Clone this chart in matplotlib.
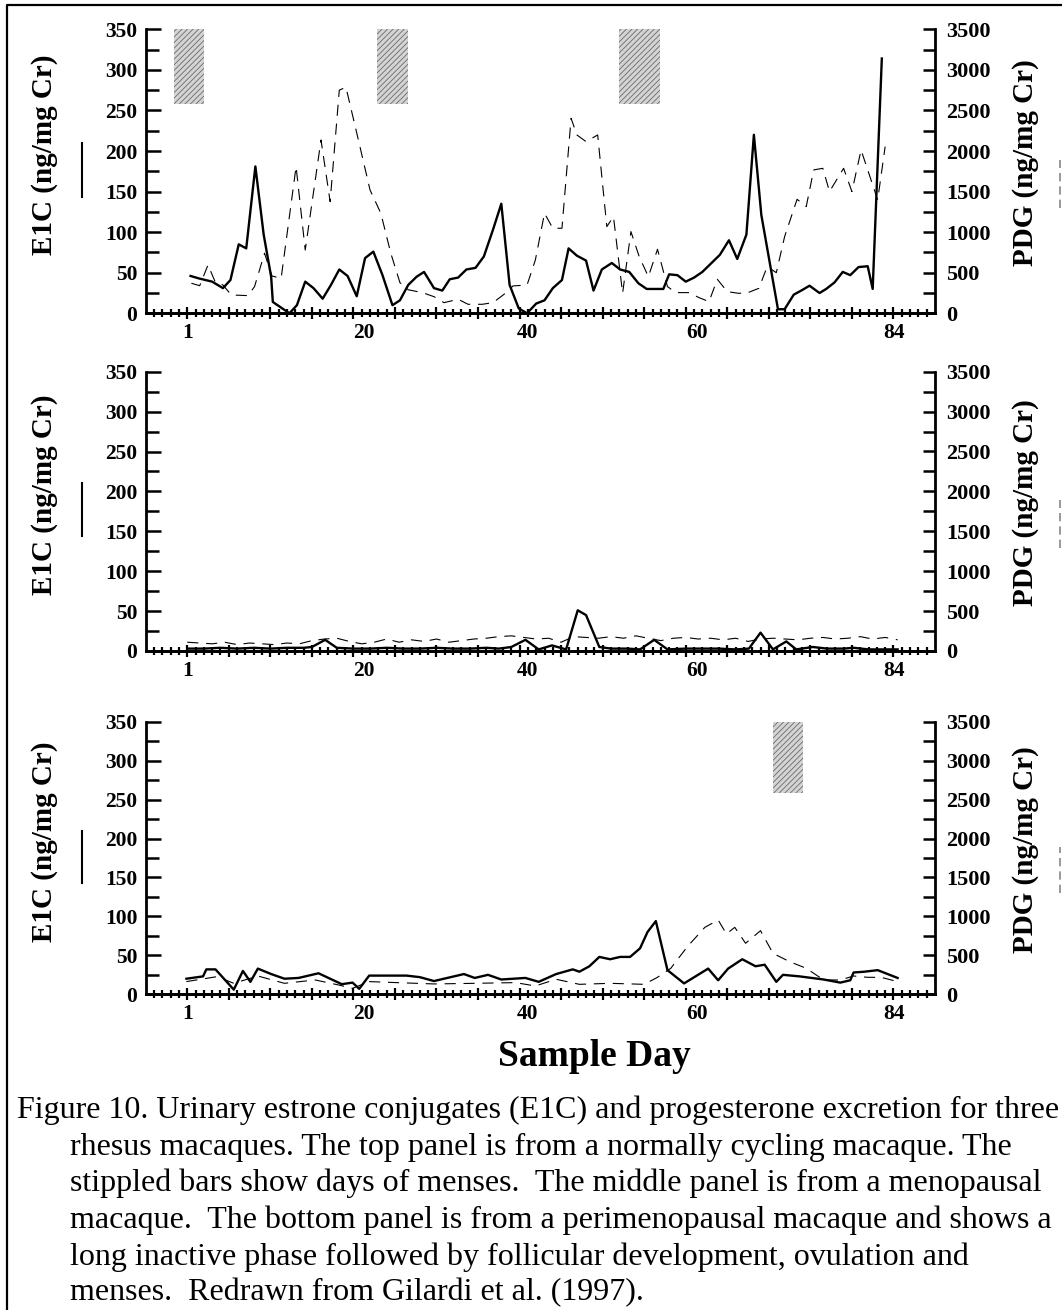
import matplotlib
matplotlib.use("Agg")
import matplotlib.pyplot as plt
from matplotlib.lines import Line2D
from matplotlib.ticker import MultipleLocator, FixedLocator

plt.rcParams["font.family"] = ["Liberation Serif", "DejaVu Serif"]
plt.rcParams["hatch.linewidth"] = 0.6

W, H = 1062, 1310

# x tick labels (sample day) and where they sit on the day scale
XTICK_LABELS = ["1", "20", "40", "60", "84"]
XTICK_POS = [1, 22.2, 41.9, 62.4, 86.1]

# menses bars (start day, end day), drawn between these E1C values
TOP_MENSES = [(-0.6, 3.0), (23.8, 27.6), (53.0, 57.9)]
BOT_MENSES = [(71.5, 75.1)]
MENSES_LOW, MENSES_HIGH = 258, 350

# top panel: normally cycling macaque
TOP_E1C_DAY = [1.4, 2.4, 4.0, 5.3, 6.2, 7.2, 8.1, 9.2, 10.2, 11.1,
               11.3, 13.3, 14.2, 15.2, 16.2, 17.3, 18.3, 19.3, 20.3, 21.4,
               22.4, 23.4, 24.5, 25.7, 26.6, 27.6, 28.6, 29.5, 30.7, 31.7,
               32.6, 33.6, 34.6, 35.7, 36.7, 37.8, 38.8, 39.8, 40.9, 41.9,
               43.0, 44.0, 45.0, 46.1, 46.9, 47.9, 49.0, 49.9, 50.9, 52.1,
               53.1, 54.2, 55.3, 56.3, 58.3, 59.0, 60.0, 61.0, 62.0, 63.0,
               64.1, 65.1, 66.2, 67.2, 68.3, 69.2, 70.1, 72.1, 72.9, 74.0,
               74.9, 75.9, 77.1, 77.9, 78.9, 79.9, 80.8, 81.8, 82.9, 83.5,
               84.6]
TOP_E1C = [46, 43, 39, 31, 41, 85, 80, 181, 97, 45,
           14, 0, 10, 39, 31, 18, 35, 54, 46, 21,
           68, 76, 47, 10, 16, 35, 45, 51, 31, 28,
           42, 44, 54, 56, 70, 103, 135, 35, 6, 0,
           12, 16, 31, 41, 80, 71, 65, 28, 54, 62,
           54, 51, 37, 30, 30, 48, 47, 39, 44, 51,
           62, 72, 90, 67, 97, 220, 121, 5, 5, 23,
           28, 34, 25, 30, 38, 51, 47, 57, 58, 30,
           314]
TOP_PDG_DAY = [1.5, 2.5, 3.5, 4.4, 5.3, 6.3, 8.3, 9.1, 10.3, 11.2,
               12.3, 14.1, 15.2, 17.1, 18.2, 19.3, 20.1, 21.6, 23.0, 24.3,
               25.5, 26.6, 27.6, 29.3, 30.7, 31.9, 33.6, 34.8, 36.5, 37.8,
               39.4, 40.2, 41.9, 42.9, 44.0, 45.0, 46.1, 47.2, 47.9, 49.0,
               50.4, 51.5, 52.3, 53.4, 54.4, 55.4, 56.5, 57.6, 58.8, 59.8,
               61.4, 62.6, 63.8, 64.8, 66.0, 67.3, 68.3, 69.8, 70.8, 71.9,
               72.9, 74.4, 75.5, 76.4, 77.5, 78.3, 80.0, 81.0, 82.1, 82.9,
               84.1, 85.0]
TOP_PDG = [370, 340, 596, 378, 349, 226, 218, 329, 740, 460,
           431, 1808, 780, 2136, 1376, 2750, 2786, 2136, 1520, 1233,
           740, 378, 290, 255, 205, 131, 173, 111, 111, 131,
           255, 337, 349, 657, 1233, 1048, 1048, 2403, 2198, 2116,
           2198, 1068, 1191, 247, 1007, 698, 452, 789, 329, 255,
           255, 193, 144, 419, 267, 247, 247, 308, 575, 501,
           945, 1405, 1315, 1767, 1787, 1500, 1787, 1500, 2013, 1767,
           1397, 2054]

# middle panel: menopausal macaque
MID_E1C_DAY = [1, 3, 5, 7, 9, 11, 13, 15, 16, 17.6,
               19, 21, 23, 25, 27, 29, 31, 33, 35, 37,
               38.5, 40, 41.7, 43.3, 44.9, 46.6, 48.0, 49.0, 50.6, 52,
               54, 55.5, 57.2, 58.8, 61, 63, 65, 67, 68.6, 70,
               71.5, 73.1, 74.3, 76.3, 78, 80, 81.2, 83, 86.5]
MID_E1C = [3, 3, 4, 3, 4, 3, 4, 4, 5, 14,
           4, 3, 3, 4, 3, 3, 4, 3, 3, 4,
           3, 5, 14, 2, 7, 2, 51, 45, 5, 3,
           3, 2, 14, 2, 3, 3, 3, 2, 3, 23,
           2, 12, 2, 5, 3, 3, 4, 2, 2]
MID_PDG_DAY = [1, 2.5, 4, 5.5, 7, 8.5, 10, 11.5, 13, 14.5,
               16, 17.5, 19, 20.5, 22, 23.5, 25, 26.5, 28, 29.5,
               31, 32.5, 34, 35.5, 37, 38.5, 40, 41.5, 43, 44.5,
               46, 47.5, 49, 50.5, 52, 53.5, 55, 56.5, 58, 59.5,
               61, 62.5, 64, 65.5, 67, 68.5, 70, 71.5, 73, 74.5,
               76, 77.5, 79, 80.5, 82, 83.5, 85, 86.5]
MID_PDG = [110, 100, 90, 110, 80, 100, 90, 80, 100, 90,
           130, 150, 160, 120, 90, 110, 150, 110, 140, 120,
           150, 110, 130, 150, 160, 180, 190, 170, 150, 160,
           110, 180, 170, 160, 180, 160, 190, 160, 130, 160,
           170, 150, 160, 140, 160, 120, 150, 160, 150, 140,
           160, 170, 150, 160, 180, 150, 170, 140]

# bottom panel: perimenopausal macaque
BOT_E1C_DAY = [0.9, 2.9, 3.3, 4.4, 6.6, 7.7, 8.6, 9.5, 11.1, 12.7,
               14.4, 16.8, 19.6, 20.9, 21.7, 22.9, 27.4, 29.0, 30.7, 32.3,
               34.3, 35.6, 37.2, 38.8, 41.7, 43.3, 45.4, 47.4, 48.2, 49.4,
               50.6, 51.9, 53.1, 54.3, 55.5, 56.4, 57.4, 58.8, 60.8, 63.7,
               64.9, 66.1, 67.8, 69.4, 70.5, 71.9, 72.7, 74.7, 77.6, 79.6,
               80.8, 81.2, 82.5, 84.1, 86.5]
BOT_E1C = [20, 23, 32, 32, 6, 30, 16, 33, 26, 20,
           21, 27, 13, 15, 7, 24, 24, 22, 17, 21,
           26, 21, 25, 19, 21, 16, 26, 32, 29, 36,
           48, 45, 48, 48, 59, 80, 94, 31, 14, 33,
           18, 33, 45, 36, 38, 16, 25, 23, 19, 15,
           18, 28, 29, 31, 21]
BOT_PDG_DAY = [0.9, 4.6, 6.6, 9.5, 12.7, 16.4, 19.2, 20.9, 22.9, 26.2,
               30.7, 35.6, 40.5, 42.9, 45.4, 48.2, 51.9, 56.0, 57.6, 59.2,
               61.2, 63.3, 64.9, 65.9, 66.9, 68.2, 70.0, 71.5, 73.5, 75.5,
               77.6, 79.6, 81.2, 82.9, 84.5, 86.5]
BOT_PDG = [163, 227, 141, 235, 141, 184, 120, 77, 163, 150,
           133, 141, 150, 107, 193, 128, 141, 128, 218, 334,
           612, 860, 954, 775, 860, 655, 817, 526, 419, 334,
           184, 184, 235, 218, 218, 163]

CAPTION = [
    "Figure 10. Urinary estrone conjugates (E1C) and progesterone excretion for three",
    "rhesus macaques. The top panel is from a normally cycling macaque. The",
    "stippled bars show days of menses.  The middle panel is from a menopausal",
    "macaque.  The bottom panel is from a perimenopausal macaque and shows a",
    "long inactive phase followed by follicular development, ovulation and",
    "menses.  Redrawn from Gilardi et al. (1997).",
]

# panel boxes in pixels: (top, bottom); all share left/right
PX_LEFT, PX_RIGHT = 145.7, 935.0
PANEL_PX = [(29.3, 313.3), (371.7, 651.0), (721.7, 994.3)]


def draw_panel(fig, box, e1c_day, e1c, pdg_day, pdg, menses):
    top, bottom = box
    rect = [PX_LEFT / W, 1 - bottom / H, (PX_RIGHT - PX_LEFT) / W, (bottom - top) / H]
    ax = fig.add_axes(rect)
    ax2 = ax.twinx()
    ax.set_xlim(-4, 91)
    ax.set_ylim(0, 350)
    ax2.set_ylim(0, 3500)

    for s, e in menses:
        ax.bar(s, MENSES_HIGH - MENSES_LOW, width=e - s, bottom=MENSES_LOW, align="edge",
               facecolor="#d4d4d4", edgecolor="#6a6a6a", linewidth=0, hatch="//////", zorder=1)

    ax2.plot(pdg_day, pdg, color="black", lw=0.8, linestyle=(0, (10, 7)), zorder=2)
    ax.plot(e1c_day, e1c, color="black", lw=1.7, zorder=3)
    ax.set_zorder(ax2.get_zorder() + 1)
    ax.patch.set_visible(False)

    ax.spines["top"].set_visible(False)
    ax2.spines["top"].set_visible(False)
    ax.spines["right"].set_visible(False)
    for sp in ("left", "bottom"):
        ax2.spines[sp].set_visible(False)
    for a in (ax, ax2):
        for sp in a.spines.values():
            sp.set_linewidth(2)

    ax.set_yticks(range(0, 351, 50))
    ax.yaxis.set_minor_locator(MultipleLocator(25))
    ax.tick_params(axis="y", which="major", direction="in", length=11, width=1.8,
                   pad=6, labelsize=15.5)
    ax.tick_params(axis="y", which="minor", direction="in", length=9, width=1.8)
    for t in ax.get_yticklabels():
        t.set_fontweight("bold")

    ax2.set_yticks(range(0, 3501, 500))
    ax2.yaxis.set_minor_locator(MultipleLocator(250))
    ax2.tick_params(axis="y", which="both", direction="in", length=8.6, width=1.8,
                    pad=8, labelsize=16)
    for t in ax2.get_yticklabels():
        t.set_fontweight("bold")

    ax.set_xticks(XTICK_POS, XTICK_LABELS)
    ax.tick_params(axis="x", length=0, pad=7, labelsize=15.5)
    for t in ax.get_xticklabels():
        t.set_fontweight("bold")
    sec = ax.secondary_xaxis(0)
    sec.set_xticks(range(1, 91, 5))
    sec.xaxis.set_minor_locator(FixedLocator(range(-3, 91)))
    sec.tick_params(axis="x", which="major", direction="inout", length=9, width=1.6,
                    labelbottom=False)
    sec.tick_params(axis="x", which="minor", direction="inout", length=6, width=1.6)
    sec.spines["bottom"].set_linewidth(2)

    ax.set_ylabel("E1C (ng/mg Cr)", fontsize=21, fontweight="bold")
    ax.yaxis.set_label_coords(-0.111, 0.56)
    ax2.set_ylabel("PDG (ng/mg Cr)", fontsize=21, fontweight="bold")
    ax2.yaxis.set_label_coords(1.098, 0.53)

    # line keys next to the axis titles
    ax.add_line(Line2D([-0.081, -0.081], [0.41, 0.60], transform=ax.transAxes,
                       clip_on=False, color="black", lw=1.5))
    ax.add_line(Line2D([1.158, 1.158], [0.37, 0.54], transform=ax.transAxes,
                       clip_on=False, color="#888888", lw=1.2, linestyle=(0, (5, 3))))
    return ax


fig = plt.figure(figsize=(W / 100, H / 100), dpi=100)

draw_panel(fig, PANEL_PX[0], TOP_E1C_DAY, TOP_E1C, TOP_PDG_DAY, TOP_PDG, TOP_MENSES)
draw_panel(fig, PANEL_PX[1], MID_E1C_DAY, MID_E1C, MID_PDG_DAY, MID_PDG, [])
draw_panel(fig, PANEL_PX[2], BOT_E1C_DAY, BOT_E1C, BOT_PDG_DAY, BOT_PDG, BOT_MENSES)

fig.text(594 / W, 1 - 1057 / H, "Sample Day", ha="center", va="center",
         fontsize=27, fontweight="bold")

line_y = [1110, 1147, 1183, 1220, 1257, 1293]
for i, (txt, y) in enumerate(zip(CAPTION, line_y)):
    x = 17 if i == 0 else 70
    fig.text(x / W, 1 - y / H, txt, ha="left", va="center", fontsize=23)

# frame around the figure (left and top edges visible)
fig.add_artist(Line2D([7 / W, 7 / W, 1.0], [0, 1 - 5 / H, 1 - 5 / H],
                      transform=fig.transFigure, color="black", lw=1.6))

fig.savefig("out.png", dpi=100)
